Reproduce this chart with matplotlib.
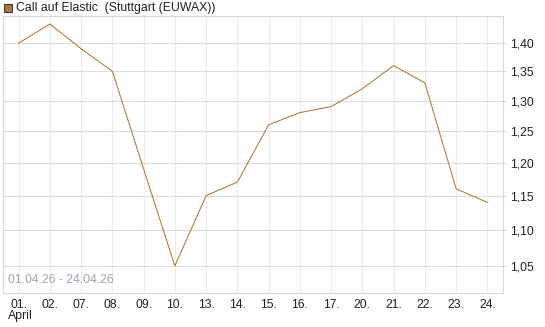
import numpy as np
import matplotlib.pyplot as plt
from matplotlib.ticker import FixedLocator, NullLocator, FuncFormatter

plt.rcParams['font.family'] = ['Liberation Sans', 'DejaVu Sans']

days = ["01.", "02.", "07.", "08.", "09.", "10.", "13.", "14.",
        "15.", "16.", "17.", "20.", "21.", "22.", "23.", "24."]
prices = [1.40, 1.435, 1.39, 1.35, 1.19, 1.05, 1.15, 1.17,
          1.26, 1.28, 1.29, 1.32, 1.36, 1.33, 1.16, 1.14]
yticks = [1.05, 1.10, 1.15, 1.20, 1.25, 1.30, 1.35, 1.40]

line_col = "#b07a30"

fig = plt.figure(figsize=(5.45, 3.27), dpi=100)
ax = fig.add_axes([3/545, 34/327, 500/545, 277/327])

x = np.arange(len(days))
ax.plot(x, prices, color=line_col, linewidth=0.75)

ax.set_yscale('log')
ax.set_ylim(1.014, 1.45)
ax.set_xlim(-0.5, len(days) - 0.5)
ax.yaxis.set_major_locator(FixedLocator(yticks))
ax.yaxis.set_minor_locator(NullLocator())
ax.yaxis.set_major_formatter(FuncFormatter(lambda v, p: f"{v:.2f}".replace(".", ",")))
ax.yaxis.tick_right()
ax.set_xticks(x)
ax.set_xticklabels(days)

ax.grid(axis='y', color='#dcdcdc', linewidth=0.8)
ax.grid(axis='x', color='#ececec', linewidth=0.8)
ax.set_axisbelow(True)
for s in ax.spines.values():
    s.set_color('#d8d8d8')
    s.set_linewidth(0.8)
ax.tick_params(axis='y', length=2, color='#d8d8d8', labelsize=8.8, labelcolor='#222222', pad=3)
ax.tick_params(axis='x', length=0, labelsize=8.8, labelcolor='#222222', pad=4)

ax.text(0.01, 0.025, "01.04.26 - 24.04.26", transform=ax.transAxes,
        fontsize=8.8, color='#a0a4b4', ha='left', va='bottom')

fig.text(8/545, 1 - 316/327, "April", fontsize=8.8, color='#222222', ha='left', va='center')

# legend box at top
fig.patches.append(plt.Rectangle((4/545, 1 - 12/327), 8/545, 8/327, transform=fig.transFigure,
                                 facecolor='#a8783c', edgecolor='#333333', linewidth=0.7))
fig.text(16/545, 1 - 8/327, "Call auf Elastic  (Stuttgart (EUWAX))", fontsize=8.8,
         color='#222222', ha='left', va='center')

fig.savefig("out.png", dpi=100)
